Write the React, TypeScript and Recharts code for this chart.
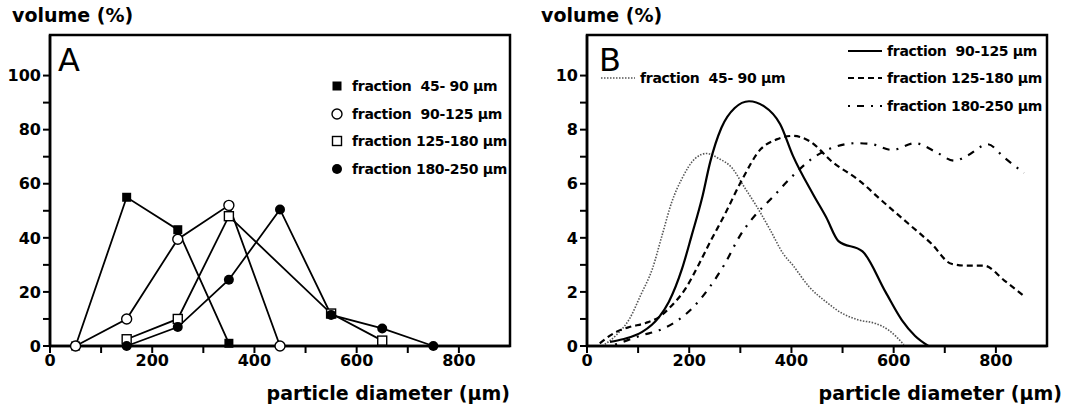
import React from "react";
import { LineChart, Line, XAxis, YAxis, ReferenceArea } from "recharts";

// Panel A: size classes (bin midpoints) and volume % per sieve fraction
const binMid = [50, 150, 250, 350, 450, 550, 650, 750];
const aFrac45to90 = [0, 55, 43, 1, null, null, null, null];
const aFrac90to125 = [0, 10, 39.5, 52, 0, null, null, null];
const aFrac125to180 = [null, 2.5, 10, 48, null, 12, 2, null];
const aFrac180to250 = [null, 0, 7, 24.5, 50.5, 11.5, 6.5, 0];

// Panel B: measured distribution curves
const b45to90X = [30, 57, 83, 105, 128, 147, 166, 186, 212, 234, 257, 283, 308, 333, 359, 384, 403, 435, 468, 500, 532, 565, 590, 620];
const b45to90Y = [0, 0.4, 1.0, 1.88, 2.86, 4.1, 5.33, 6.2, 6.94, 7.12, 6.94, 6.6, 5.87, 5.13, 4.27, 3.41, 2.98, 2.18, 1.63, 1.2, 0.96, 0.83, 0.59, 0.05];
const b90to125X = [45, 70, 108, 141, 160, 186, 205, 225, 241, 263, 289, 317, 346, 378, 403, 442, 468, 492, 539, 584, 616, 642, 668];
const b90to125Y = [0.15, 0.25, 0.52, 1.07, 1.63, 2.86, 4.1, 5.46, 6.8, 8.07, 8.8, 9.05, 8.87, 8.2, 7.03, 5.62, 4.76, 3.88, 3.5, 2.0, 0.96, 0.37, 0];
const b125to180X = [25, 57, 83, 115, 141, 166, 192, 218, 241, 270, 302, 340, 371, 403, 435, 481, 532, 577, 629, 674, 713, 745, 777, 816, 855];
const b125to180Y = [0.1, 0.52, 0.7, 0.85, 1.07, 1.5, 2.1, 2.99, 3.85, 4.88, 6.1, 7.28, 7.64, 7.77, 7.58, 6.79, 6.13, 5.37, 4.52, 3.78, 3.04, 2.97, 2.97, 2.43, 1.85];
const b180to250X = [55, 70, 108, 141, 173, 205, 237, 270, 300, 323, 363, 403, 442, 482, 526, 558, 597, 642, 681, 719, 745, 784, 816, 855];
const b180to250Y = [0.05, 0.15, 0.4, 0.58, 0.89, 1.38, 2.1, 3.05, 4.1, 4.7, 5.5, 6.3, 6.95, 7.34, 7.5, 7.46, 7.25, 7.5, 7.19, 6.85, 7.05, 7.46, 6.97, 6.4];

const xTicks = [0, 100, 200, 300, 400, 500, 600, 700, 800];
const aYTicks = [0, 10, 20, 30, 40, 50, 60, 70, 80, 90, 100];
const bYTicks = [0, 1, 2, 3, 4, 5, 6, 7, 8, 9, 10];

const FONT = "'DejaVu Sans', sans-serif";

const dataA = binMid.map((x, i) => ({
  x,
  f1: aFrac45to90[i],
  f2: aFrac90to125[i],
  f3: aFrac125to180[i],
  f4: aFrac180to250[i],
}));

const toPts = (xs: number[], ys: number[]) => xs.map((x, i) => ({ x, y: ys[i] }));

type Marker = "fsq" | "ocirc" | "osq" | "fcirc";

function MarkerGlyph({ kind, cx, cy }: { kind: Marker; cx: number; cy: number }) {
  if (kind === "fsq") return <rect x={cx - 4.5} y={cy - 4.5} width={9} height={9} fill="#000" />;
  if (kind === "osq") return <rect x={cx - 4.5} y={cy - 4.5} width={9} height={9} fill="#fff" stroke="#000" strokeWidth={1.4} />;
  if (kind === "ocirc") return <circle cx={cx} cy={cy} r={5} fill="#fff" stroke="#000" strokeWidth={1.4} />;
  return <circle cx={cx} cy={cy} r={5} fill="#000" />;
}

const dotFor = (kind: Marker) => (props: any) => {
  const { cx, cy, value, index } = props;
  if (value == null || cx == null || cy == null) return <g key={`e-${kind}-${index}`} />;
  return (
    <g key={`d-${kind}-${index}`}>
      <MarkerGlyph kind={kind} cx={cx} cy={cy} />
    </g>
  );
};

const seriesA: { key: string; name: string; marker: Marker }[] = [
  { key: "f1", name: "fraction\u00a0\u00a045-\u00a090 µm", marker: "fsq" },
  { key: "f2", name: "fraction\u00a0\u00a090-125 µm", marker: "ocirc" },
  { key: "f3", name: "fraction 125-180 µm", marker: "osq" },
  { key: "f4", name: "fraction 180-250 µm", marker: "fcirc" },
];

const tickStyle = { fontSize: 16, fill: "#000", fontFamily: FONT, fontWeight: 700 };
const axisLine = { stroke: "#000", strokeWidth: 2.5 };
const tickLine = { stroke: "#000", strokeWidth: 2 };

const labelStyle: React.CSSProperties = {
  position: "absolute",
  fontFamily: FONT,
  fontSize: 19,
  fontWeight: 700,
  color: "#000",
  whiteSpace: "nowrap",
  lineHeight: 1,
};

const legendText: React.CSSProperties = { fontFamily: FONT, fontSize: 14, fontWeight: 700, letterSpacing: -0.3 };

function LegendA() {
  return (
    <div style={{ position: "absolute", left: 330, top: 72, ...legendText }}>
      {seriesA.map((s) => (
        <div key={s.key} style={{ display: "flex", alignItems: "center", height: 27.7 }}>
          <svg width={14} height={14} style={{ marginRight: 8 }}>
            <MarkerGlyph kind={s.marker} cx={7} cy={7} />
          </svg>
          <span>{s.name}</span>
        </div>
      ))}
    </div>
  );
}

const seriesB = [
  { name: "fraction\u00a0\u00a090-125 µm", dash: undefined as string | undefined, width: 2.2, color: "#000" },
  { name: "fraction 125-180 µm", dash: "6 4", width: 2.2, color: "#000" },
  { name: "fraction 180-250 µm", dash: "2 7 7 7", width: 2.2, color: "#000" },
];

function LegendSwatch({ dash, width, color }: { dash?: string; width: number; color: string }) {
  return (
    <svg width={34} height={10} style={{ marginRight: 5 }}>
      <line x1={0} y1={5} x2={34} y2={5} stroke={color} strokeWidth={width} strokeDasharray={dash} />
    </svg>
  );
}

function LegendB() {
  return (
    <div style={{ position: "absolute", left: 318, top: 37, ...legendText }}>
      {seriesB.map((s) => (
        <div key={s.name} style={{ display: "flex", alignItems: "center", height: 27.5 }}>
          <LegendSwatch dash={s.dash} width={s.width} color={s.color} />
          <span>{s.name}</span>
        </div>
      ))}
    </div>
  );
}

export default function App() {
  return (
    <div style={{ position: "absolute", left: 0, top: 0, width: 1067, height: 413, background: "#fff", overflow: "hidden" }}>
      {/* Panel A */}
      <div style={{ position: "absolute", left: 0, top: 0, width: 530, height: 413 }}>
        <LineChart width={530} height={413} data={dataA} margin={{ top: 35, right: 20, bottom: 37, left: 5 }}>
          <XAxis
            dataKey="x"
            type="number"
            domain={[0, 900]}
            ticks={xTicks}
            tickFormatter={(v) => (v % 200 === 0 ? String(v) : "")}
            interval={0}
            height={30}
            tick={tickStyle}
            axisLine={axisLine}
            tickLine={tickLine}
            tickSize={7}
          />
          <YAxis
            type="number"
            domain={[0, 115]}
            ticks={aYTicks}
            tickFormatter={(v) => (v % 20 === 0 ? String(v) : "")}
            interval={0}
            width={45}
            tick={tickStyle}
            axisLine={axisLine}
            tickLine={tickLine}
            tickSize={7}
            tickMargin={2}
          />
          <ReferenceArea x1={0} x2={900} y1={0} y2={115} fill="none" stroke="#000" strokeWidth={2.5} />
          {seriesA.map((s) => (
            <Line
              key={s.key}
              dataKey={s.key}
              name={s.name}
              type="linear"
              stroke="#000"
              strokeWidth={1.8}
              connectNulls
              dot={dotFor(s.marker)}
              activeDot={false}
              isAnimationActive={false}
            />
          ))}
        </LineChart>
        <LegendA />
        <div style={{ ...labelStyle, left: 12, top: 6 }}>volume (%)</div>
        <div style={{ ...labelStyle, left: 58, top: 44, fontSize: 32, fontWeight: 400 }}>A</div>
        <div style={{ ...labelStyle, right: 20, top: 384 }}>particle diameter (µm)</div>
      </div>

      {/* Panel B */}
      <div style={{ position: "absolute", left: 530, top: 0, width: 537, height: 413 }}>
        <LineChart width={537} height={413} margin={{ top: 35, right: 20, bottom: 37, left: 12 }}>
          <XAxis
            dataKey="x"
            type="number"
            domain={[0, 900]}
            ticks={xTicks}
            tickFormatter={(v) => (v % 200 === 0 ? String(v) : "")}
            interval={0}
            height={30}
            tick={tickStyle}
            axisLine={axisLine}
            tickLine={tickLine}
            tickSize={7}
            allowDuplicatedCategory={false}
          />
          <YAxis
            type="number"
            domain={[0, 11.5]}
            ticks={bYTicks}
            tickFormatter={(v) => (v % 2 === 0 ? String(v) : "")}
            interval={0}
            width={45}
            tick={tickStyle}
            axisLine={axisLine}
            tickLine={tickLine}
            tickSize={7}
            tickMargin={2}
          />
          <ReferenceArea x1={0} x2={900} y1={0} y2={11.5} fill="none" stroke="#000" strokeWidth={2.5} />
          <Line data={toPts(b45to90X, b45to90Y)} dataKey="y" name="fraction 45-90 µm" type="monotone" stroke="#555" strokeWidth={1.6} strokeDasharray="1.5 1.5" dot={false} activeDot={false} isAnimationActive={false} />
          <Line data={toPts(b90to125X, b90to125Y)} dataKey="y" name="fraction 90-125 µm" type="monotone" stroke="#000" strokeWidth={2.2} dot={false} activeDot={false} isAnimationActive={false} />
          <Line data={toPts(b125to180X, b125to180Y)} dataKey="y" name="fraction 125-180 µm" type="monotone" stroke="#000" strokeWidth={2.2} strokeDasharray="6 4" dot={false} activeDot={false} isAnimationActive={false} />
          <Line data={toPts(b180to250X, b180to250Y)} dataKey="y" name="fraction 180-250 µm" type="monotone" stroke="#000" strokeWidth={2.2} strokeDasharray="2 7 7 7" dot={false} activeDot={false} isAnimationActive={false} />
        </LineChart>
        <LegendB />
        <div style={{ ...labelStyle, left: 71, top: 71, ...legendText, display: "flex", alignItems: "center" }}>
          <LegendSwatch dash="1.5 1.5" width={1.6} color="#555" />
          <span>fraction&nbsp;&nbsp;45-&nbsp;90 µm</span>
        </div>
        <div style={{ ...labelStyle, left: 11, top: 6 }}>volume (%)</div>
        <div style={{ ...labelStyle, left: 69, top: 44, fontSize: 32, fontWeight: 400 }}>B</div>
        <div style={{ ...labelStyle, right: 5, top: 384 }}>particle diameter (µm)</div>
      </div>
    </div>
  );
}
